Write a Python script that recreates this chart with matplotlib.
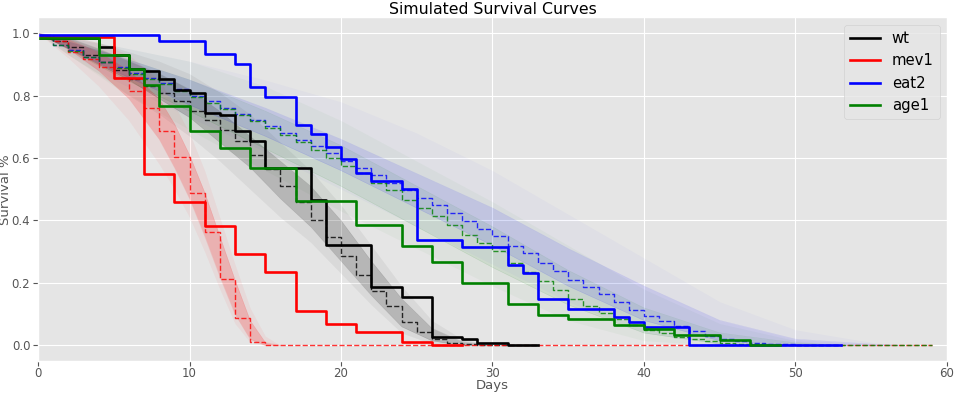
import numpy as np
import matplotlib
matplotlib.use("Agg")
import matplotlib.pyplot as plt

plt.style.use("ggplot")

# observed Kaplan-Meier steps (day of change, survival from that day)
wt_days = [0, 4, 5, 6, 7, 8, 9, 10, 11, 12, 13, 14, 15, 18, 19, 22, 24, 26, 28, 29, 31, 33]
wt_surv = [0.985, 0.955, 0.929, 0.885, 0.878, 0.852, 0.818, 0.808, 0.744, 0.738, 0.687,
           0.653, 0.568, 0.466, 0.322, 0.186, 0.155, 0.027, 0.019, 0.009, 0.0, 0.0]

mev1_days = [0, 5, 7, 9, 11, 13, 15, 17, 19, 21, 24, 26, 28]
mev1_surv = [0.987, 0.857, 0.549, 0.46, 0.382, 0.292, 0.236, 0.111, 0.068, 0.044, 0.01, 0.0, 0.0]

eat2_days = [0, 8, 11, 13, 14, 15, 17, 18, 19, 20, 21, 22, 24, 25, 28, 31, 32, 33, 35,
             38, 39, 40, 43, 53]
eat2_surv = [0.993, 0.974, 0.933, 0.902, 0.827, 0.795, 0.707, 0.677, 0.636, 0.596, 0.552,
             0.528, 0.502, 0.338, 0.314, 0.258, 0.232, 0.148, 0.116, 0.091, 0.075, 0.058,
             0.0, 0.0]

age1_days = [0, 4, 6, 7, 8, 10, 12, 14, 17, 21, 24, 26, 28, 31, 33, 35, 38, 40, 42, 45, 47, 49]
age1_surv = [0.985, 0.929, 0.884, 0.833, 0.767, 0.685, 0.632, 0.567, 0.462, 0.384, 0.317,
             0.267, 0.201, 0.132, 0.098, 0.084, 0.066, 0.051, 0.034, 0.016, 0.0, 0.0]

# simulated mean (dashed), one value per day starting at day 0
wt_sim = [0.99, 0.975, 0.955, 0.93, 0.909, 0.882, 0.852, 0.832, 0.808, 0.781, 0.752, 0.722,
          0.69, 0.653, 0.61, 0.565, 0.512, 0.458, 0.402, 0.347, 0.285, 0.226, 0.173, 0.125,
          0.075, 0.042, 0.02, 0.008, 0.003, 0.0, 0.0, 0.0, 0.0, 0.0]
mev1_sim = [0.995, 0.975, 0.941, 0.917, 0.891, 0.857, 0.815, 0.76, 0.688, 0.602, 0.488,
            0.362, 0.212, 0.088, 0.011] + [0.0] * 45
eat2_sim = [0.99, 0.962, 0.946, 0.925, 0.909, 0.893, 0.872, 0.856, 0.84, 0.82, 0.799, 0.781,
            0.76, 0.741, 0.722, 0.701, 0.68, 0.658, 0.637, 0.616, 0.592, 0.568, 0.546, 0.52,
            0.496, 0.472, 0.45, 0.425, 0.397, 0.372, 0.349, 0.317, 0.296, 0.264, 0.237, 0.21,
            0.187, 0.163, 0.138, 0.114, 0.095, 0.077, 0.061, 0.045, 0.031, 0.02, 0.013, 0.008,
            0.005, 0.003, 0.002, 0.001, 0.0, 0.0]
age1_sim = [0.99, 0.962, 0.944, 0.922, 0.906, 0.889, 0.868, 0.852, 0.836, 0.816, 0.795, 0.777,
            0.756, 0.738, 0.718, 0.697, 0.675, 0.652, 0.626, 0.6, 0.573, 0.552, 0.52, 0.496,
            0.466, 0.44, 0.414, 0.386, 0.354, 0.328, 0.301, 0.264, 0.234, 0.205, 0.176, 0.148,
            0.125, 0.104, 0.085, 0.065, 0.05, 0.04, 0.028, 0.02, 0.014, 0.009, 0.006, 0.004,
            0.002, 0.001] + [0.0] * 10

# spread of the simulated runs: day, core low/high, outer low/high
wt_band_days = [0, 2, 4, 6, 8, 10, 12, 14, 16, 18, 20, 22, 24, 26, 28, 30]
wt_core_lo = [1.0, 0.95, 0.9, 0.85, 0.79, 0.73, 0.65, 0.57, 0.47, 0.38, 0.27, 0.16, 0.06, 0.015, 0.0, 0.0]
wt_core_hi = [1.0, 0.985, 0.95, 0.91, 0.87, 0.82, 0.75, 0.67, 0.59, 0.51, 0.4, 0.27, 0.15, 0.055, 0.012, 0.0]
wt_out_lo = [1.0, 0.93, 0.87, 0.8, 0.74, 0.67, 0.59, 0.5, 0.41, 0.33, 0.23, 0.13, 0.04, 0.005, 0.0, 0.0]
wt_out_hi = [1.0, 0.99, 0.97, 0.94, 0.91, 0.87, 0.81, 0.74, 0.65, 0.56, 0.45, 0.32, 0.19, 0.08, 0.02, 0.0]

mev1_band_days = [0, 2, 4, 6, 8, 9, 10, 11, 12, 13, 14, 15, 16]
mev1_core_lo = [1.0, 0.95, 0.88, 0.79, 0.66, 0.57, 0.47, 0.35, 0.22, 0.1, 0.02, 0.0, 0.0]
mev1_core_hi = [1.0, 0.98, 0.94, 0.88, 0.79, 0.71, 0.61, 0.49, 0.35, 0.21, 0.08, 0.01, 0.0]
mev1_out_lo = [1.0, 0.92, 0.83, 0.72, 0.58, 0.5, 0.41, 0.3, 0.18, 0.07, 0.01, 0.0, 0.0]
mev1_out_hi = [1.0, 0.99, 0.97, 0.93, 0.85, 0.77, 0.68, 0.56, 0.41, 0.26, 0.12, 0.03, 0.0]

eat2_band_days = [0, 5, 10, 15, 20, 25, 30, 35, 40, 45, 50, 55, 57]
eat2_core_lo = [1.0, 0.88, 0.77, 0.67, 0.56, 0.44, 0.32, 0.19, 0.08, 0.015, 0.0, 0.0, 0.0]
eat2_core_hi = [1.0, 0.93, 0.85, 0.76, 0.66, 0.55, 0.44, 0.31, 0.19, 0.08, 0.02, 0.004, 0.0]
eat2_out_lo = [1.0, 0.85, 0.73, 0.62, 0.5, 0.38, 0.26, 0.14, 0.04, 0.005, 0.0, 0.0, 0.0]
eat2_out_hi = [1.0, 0.96, 0.91, 0.85, 0.78, 0.68, 0.56, 0.42, 0.28, 0.14, 0.05, 0.01, 0.0]

age1_band_days = [0, 5, 10, 15, 20, 25, 30, 35, 40, 45, 50, 53]
age1_core_lo = [1.0, 0.87, 0.75, 0.63, 0.51, 0.38, 0.25, 0.13, 0.04, 0.005, 0.0, 0.0]
age1_core_hi = [1.0, 0.93, 0.85, 0.75, 0.64, 0.51, 0.38, 0.24, 0.12, 0.04, 0.008, 0.0]
age1_out_lo = [1.0, 0.83, 0.69, 0.56, 0.43, 0.31, 0.19, 0.08, 0.015, 0.0, 0.0, 0.0]
age1_out_hi = [1.0, 0.96, 0.91, 0.83, 0.72, 0.59, 0.46, 0.32, 0.18, 0.07, 0.015, 0.0]

strains = ["wt", "mev1", "eat2", "age1"]
colors = {"wt": "black", "mev1": "red", "eat2": "blue", "age1": "green"}

obs = {"wt": (wt_days, wt_surv), "mev1": (mev1_days, mev1_surv),
       "eat2": (eat2_days, eat2_surv), "age1": (age1_days, age1_surv)}
sim = {"wt": wt_sim, "mev1": mev1_sim, "eat2": eat2_sim, "age1": age1_sim}
bands = {"wt": (wt_band_days, wt_core_lo, wt_core_hi, wt_out_lo, wt_out_hi),
         "mev1": (mev1_band_days, mev1_core_lo, mev1_core_hi, mev1_out_lo, mev1_out_hi),
         "eat2": (eat2_band_days, eat2_core_lo, eat2_core_hi, eat2_out_lo, eat2_out_hi),
         "age1": (age1_band_days, age1_core_lo, age1_core_hi, age1_out_lo, age1_out_hi)}
band_alpha = {"wt": (0.05, 0.16), "mev1": (0.05, 0.18), "eat2": (0.025, 0.1), "age1": (0.03, 0.07)}

fig = plt.figure(figsize=(9.55, 3.93), dpi=100)
ax = fig.add_axes([0.0398, 0.0814, 0.9518, 0.8741])

# simulated runs drawn as shaded spreads
for s in ["age1", "eat2", "wt", "mev1"]:
    d, clo, chi, olo, ohi = bands[s]
    a_out, a_core = band_alpha[s]
    ax.fill_between(d, olo, ohi, color=colors[s], alpha=a_out, lw=0)
    ax.fill_between(d, clo, chi, color=colors[s], alpha=a_core, lw=0)
    for edge in (clo, chi):
        ax.plot(d, edge, color=colors[s], lw=0.4, alpha=0.1)

for s in strains:
    y = sim[s]
    ax.step(np.arange(len(y)), y, where="post", color=colors[s], ls="--", lw=1.0, alpha=0.8)

for s in strains:
    d, v = obs[s]
    ax.step(d, v, where="post", color=colors[s], lw=1.9, label=s)

ax.set_xlim(0, 60)
ax.set_ylim(-0.05, 1.05)
ax.set_xticks(np.arange(0, 61, 10))
ax.set_yticks(np.arange(0, 1.01, 0.2))
ax.tick_params(labelsize=8.5, pad=2)
ax.tick_params(axis="x", pad=1)
ax.set_title("Simulated Survival Curves", fontsize=11.3, pad=2)
ax.set_xlabel("Days", fontsize=9.5, labelpad=-1)
ax.set_ylabel("Survival %", fontsize=9.5, labelpad=0)
ax.legend(loc="upper right", fontsize=10.7, handlelength=2.0)

plt.savefig("out.png", dpi=100)
